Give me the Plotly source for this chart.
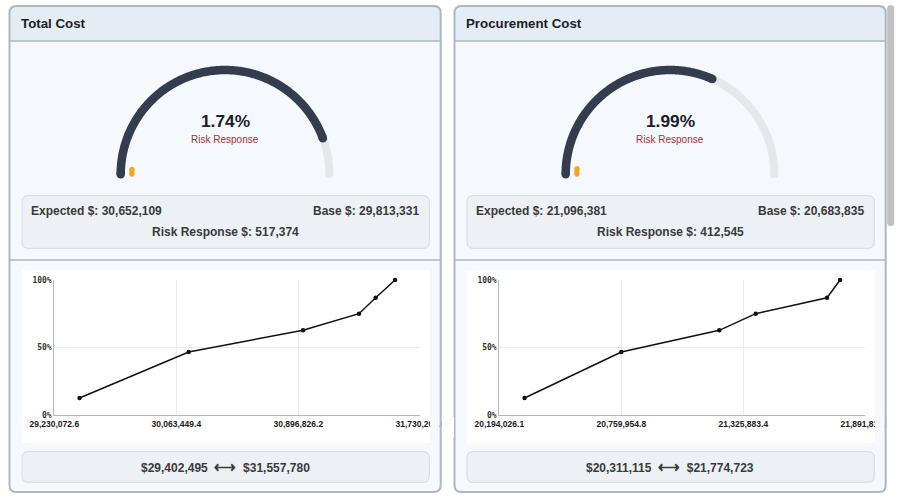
import numpy as np
import plotly.graph_objects as go

W, H = 898, 501

# ---------------- data ----------------
panel_titles = ["Total Cost", "Procurement Cost"]
risk_pct = [1.74, 1.99]                 # risk response % (centre of gauge / orange arc)
gauge_fill = [0.8875, 0.633]            # share of gauge track that is filled
expected = [30652109, 21096381]
base = [29813331, 20683835]
risk_resp = [517374, 412545]
range_low = [29402495, 20311115]
range_high = [31557780, 21774723]

cdf_prob = [0.128, 0.468, 0.628, 0.751, 0.869, 1.0]
total_cost_x = [29402495, 30148100, 30928900, 31311430, 31425220, 31557780]
procurement_x = [20311115, 20759955, 21214470, 21383390, 21714130, 21774723]
total_ticks = [29230072.6, 30063449.4, 30896826.2, 31730203.0]
procurement_ticks = [20194026.1, 20759954.8, 21325883.4, 21891812.1]
y_tick_vals = [0, 0.5, 1.0]
y_tick_labels = ["0%", "50%", "100%"]

cdf_x = [total_cost_x, procurement_x]
cdf_ticks = [total_ticks, procurement_ticks]

# ---------------- styling ----------------
FONT = "Liberation Sans"
BORDER = "#abb7c5"
HEADER_BG = "#e4ecf4"
BODY_BG = "#f5f8fc"
BOX_BG = "#edf1f5"
BOX_LINE = "#d4dae1"
DARK = "#343d4e"
TRACK = "#e6e7ea"
ORANGE = "#f5a623"
OFFSETS = [0, 445]


def px(x):
    return x / W


def py(y):
    return 1 - y / H


def rrect_path(x0, y0, x1, y1, r, top_only=False):
    rb = 0 if top_only else r
    p = [
        f"M {px(x0 + r)},{py(y0)}",
        f"L {px(x1 - r)},{py(y0)}",
        f"Q {px(x1)},{py(y0)} {px(x1)},{py(y0 + r)}",
        f"L {px(x1)},{py(y1 - rb)}",
    ]
    if rb:
        p.append(f"Q {px(x1)},{py(y1)} {px(x1 - rb)},{py(y1)}")
    p.append(f"L {px(x0 + rb)},{py(y1)}")
    if rb:
        p.append(f"Q {px(x0)},{py(y1)} {px(x0)},{py(y1 - rb)}")
    p += [f"L {px(x0)},{py(y0 + r)}", f"Q {px(x0)},{py(y0)} {px(x0 + r)},{py(y0)}", "Z"]
    return " ".join(p)


shapes = []
annotations = []


def add_path(path, fill=None, line=None, lw=0, layer="below"):
    shapes.append(dict(type="path", path=path, xref="paper", yref="paper",
                       fillcolor=fill if fill else "rgba(0,0,0,0)",
                       line=dict(color=line if line else "rgba(0,0,0,0)", width=lw),
                       layer=layer))


def add_rect(x0, y0, x1, y1, fill, layer="below"):
    shapes.append(dict(type="rect", xref="paper", yref="paper",
                       x0=px(x0), x1=px(x1), y0=py(y1), y1=py(y0),
                       fillcolor=fill, line=dict(width=0), layer=layer))


def add_line(x0, y0, x1, y1, color, width, layer="below"):
    shapes.append(dict(type="line", xref="paper", yref="paper",
                       x0=px(x0), x1=px(x1), y0=py(y0), y1=py(y1),
                       line=dict(color=color, width=width), layer=layer))


def ann(text, x, y, size, color, weight="normal", xanchor="center", family=FONT):
    annotations.append(dict(text=text, x=px(x), y=py(y), xref="paper", yref="paper",
                            xanchor=xanchor, yanchor="middle", showarrow=False,
                            font=dict(family=family, size=size, color=color, weight=weight)))


fig = go.Figure()
layout_axes = {}

R = 104.3
for i, o in enumerate(OFFSETS):
    # panel frame
    add_path(rrect_path(9.5 + o, 6, 440.7 + o, 492, 7), fill=BODY_BG)
    add_path(rrect_path(9.5 + o, 6, 440.7 + o, 41, 7, top_only=True), fill=HEADER_BG)
    add_line(9.5 + o, 41, 440.7 + o, 41, BORDER, 1.5)
    add_line(9.5 + o, 260, 440.7 + o, 260, BORDER, 1.5)
    add_path(rrect_path(9.5 + o, 6, 440.7 + o, 492, 7), line=BORDER, lw=2)
    # info boxes
    add_path(rrect_path(22 + o, 195.7, 429.3 + o, 248.3, 6), fill=BOX_BG, line=BOX_LINE, lw=1)
    add_rect(22 + o, 270, 430 + o, 443, "#ffffff")
    add_path(rrect_path(22 + o, 451.7, 429.3 + o, 482.3, 6), fill=BOX_BG, line=BOX_LINE, lw=1)

    # texts
    ann(panel_titles[i], 18.9 + o, 23.3, 13.3, "#1d2127", "bold", "left")
    ann(f"{risk_pct[i]:.2f}%", 225 + o, 121.5, 17.3, "#1b202b", "bold")
    ann("Risk Response", 225 + o, 139, 10, "#a8302e")
    ann(f"Expected $: {expected[i]:,}", 28.8 + o, 211.5, 12, "#3a3a3a", "bold", "left")
    ann(f"Base $: {base[i]:,}", 421.0 + o, 211.5, 12, "#3a3a3a", "bold", "right")
    ann(f"Risk Response $: {risk_resp[i]:,}", 225 + o, 231.7, 12, "#3a3a3a", "bold")
    ann(f"${range_low[i]:,}\u00a0 <span style='font-size:15px'>\u27f7</span> \u00a0${range_high[i]:,}",
        225 + o, 466.8, 12, "#3a3a3a", "bold")

    # gauge axes (1 unit = R px)
    cx, cy = 225 + o, 174.3
    gx = "x" if i == 0 else "x2"
    gy = "y" if i == 0 else "y2"
    kx = "xaxis" if i == 0 else "xaxis2"
    ky = "yaxis" if i == 0 else "yaxis2"
    layout_axes[kx] = dict(domain=[px(cx - 130), px(cx + 130)], range=[-130 / R, 130 / R],
                           visible=False, fixedrange=True, anchor=gy, automargin=False)
    layout_axes[ky] = dict(domain=[py(190), py(50)], range=[-(190 - cy) / R, (cy - 50) / R],
                           visible=False, fixedrange=True, anchor=gx, automargin=False)

    def arc(frac_from, frac_to, radius, color, width):
        th = np.pi * (1 - np.linspace(frac_from, frac_to, 240))
        xs, ys = radius * np.cos(th), radius * np.sin(th)
        fig.add_trace(go.Scatter(x=xs, y=ys, mode="lines",
                                 line=dict(color=color, width=width, simplify=False),
                                 xaxis=gx, yaxis=gy, hoverinfo="skip", showlegend=False))
        fig.add_trace(go.Scatter(x=[xs[0], xs[-1]], y=[ys[0], ys[-1]], mode="markers",
                                 marker=dict(color=color, size=width, line=dict(width=0)),
                                 xaxis=gx, yaxis=gy, hoverinfo="skip", showlegend=False,
                                 cliponaxis=False))

    arc(0, 1, 1.0, TRACK, 8)
    arc(0, gauge_fill[i], 1.0, DARK, 8.5)
    arc(0, risk_pct[i] / 100, 0.893, ORANGE, 5)

    # cdf chart
    cxk = "x3" if i == 0 else "x4"
    cyk = "y3" if i == 0 else "y4"
    kx = "xaxis3" if i == 0 else "xaxis4"
    ky = "yaxis3" if i == 0 else "yaxis4"
    ticks = cdf_ticks[i]
    layout_axes[kx] = dict(domain=[px(54.3 + o), px(420.3 + o)], range=[ticks[0], ticks[-1]],
                           tickvals=ticks, tickformat=",.1f", showgrid=True, gridcolor="#ececec",
                           gridwidth=1, showline=True, linecolor="#b9b9b9", linewidth=1,
                           zeroline=False, ticks="", anchor=cyk, fixedrange=True, automargin=False,
                           tickfont=dict(family=FONT, size=8.5, color="#1a1a1a", weight="bold"))
    layout_axes[ky] = dict(domain=[py(415.3), py(280)], range=[0, 1], tickvals=y_tick_vals,
                           ticktext=y_tick_labels, showgrid=True, gridcolor="#ececec", gridwidth=1,
                           showline=True, linecolor="#b9b9b9", linewidth=1, zeroline=False,
                           ticks="", anchor=cxk, fixedrange=True, automargin=False,
                           tickfont=dict(family="DejaVu Sans Mono", size=8, color="#333333",
                                         weight="bold"))
    fig.add_trace(go.Scatter(x=cdf_x[i], y=cdf_prob, mode="lines+markers",
                             line=dict(color="#111111", width=1.5),
                             marker=dict(color="#111111", size=4.5),
                             xaxis=cxk, yaxis=cyk, cliponaxis=False, showlegend=False,
                             hoverinfo="skip"))

    # clip the last tick label at the chart box edge
    add_rect(430 + o, 417, 439.7 + o, 437, BODY_BG, layer="above")
    add_line(440.7 + o, 417, 440.7 + o, 437, BORDER, 2, layer="above")
    add_rect(441.7 + o, 417, min(454 + o, W), 437, "#ffffff", layer="above")

# scrollbar thumb
add_path(rrect_path(887.2, 5, 894.2, 226, 3.5), fill="#c1c1c1")

fig.update_layout(
    template="none",
    width=W, height=H, margin=dict(l=0, r=0, t=0, b=0, pad=0, autoexpand=False),
    paper_bgcolor="#ffffff", plot_bgcolor="rgba(0,0,0,0)",
    showlegend=False, shapes=shapes, annotations=annotations,
    font=dict(family=FONT), **layout_axes,
)

fig.write_html("out.html", config={"displayModeBar": False},
               post_script="document.body.style.margin='0px';document.body.style.overflow='hidden';")
